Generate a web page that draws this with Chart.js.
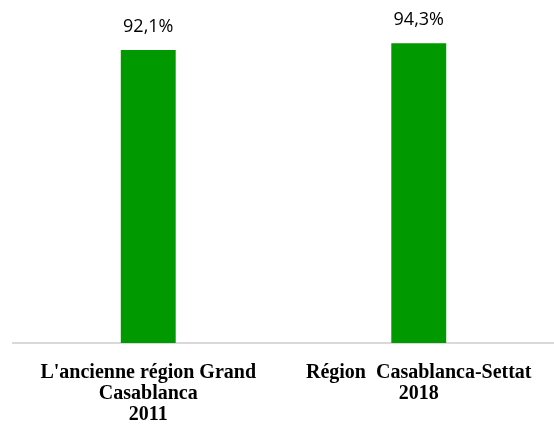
<!DOCTYPE html>
<html>
<head>
<meta charset="utf-8">
<script src="https://cdn.jsdelivr.net/npm/chart.js@4/dist/chart.umd.min.js"></script>
<style>
  html, body { margin: 0; padding: 0; background: #fff; }
  #wrap { width: 554px; height: 425px; }
</style>
</head>
<body>
<div id="wrap"><canvas id="chart"></canvas></div>
<script>
const categories = [
  ["L'ancienne région Grand", "Casablanca", "2011"],
  ["Région  Casablanca-Settat", "2018"]
];
const values = [92.1, 94.3];

// draws "92,1%" style labels above each bar
const valueLabels = {
  id: "valueLabels",
  afterDatasetsDraw(chart) {
    const ctx = chart.ctx;
    const meta = chart.getDatasetMeta(0);
    ctx.save();
    ctx.font = "18px 'Open Sans'";
    ctx.fillStyle = "#000";
    ctx.textAlign = "center";
    ctx.textBaseline = "middle";
    meta.data.forEach((bar, i) => {
      const txt = values[i].toFixed(1).replace(".", ",") + "%";
      ctx.fillText(txt, bar.x, bar.y - 23);
    });
    ctx.restore();
  }
};

const ctx = document.getElementById("chart").getContext("2d");
new Chart(ctx, {
  type: "bar",
  data: {
    labels: categories,
    datasets: [{
      data: values,
      backgroundColor: "#009900",
      barPercentage: 0.203,
      categoryPercentage: 1
    }]
  },
  options: {
    responsive: true,
    maintainAspectRatio: false,
    animation: false,
    layout: { padding: { top: 25, left: 13, right: 0, bottom: 0 } },
    plugins: {
      legend: { display: false },
      tooltip: { enabled: false }
    },
    scales: {
      x: {
        afterFit(scale) { scale.height = 82; },
        grid: { display: false, drawTicks: false },
        border: { display: true, color: "#d9d9d9", width: 2 },
        ticks: {
          color: "#000",
          padding: 20,
          maxRotation: 0,
          font: { family: "'Liberation Serif', 'Times New Roman', serif", size: 20, weight: "bold", lineHeight: 1.03 }
        }
      },
      y: {
        display: false,
        min: 0,
        max: 100
      }
    }
  },
  plugins: [valueLabels]
});
</script>
</body>
</html>
